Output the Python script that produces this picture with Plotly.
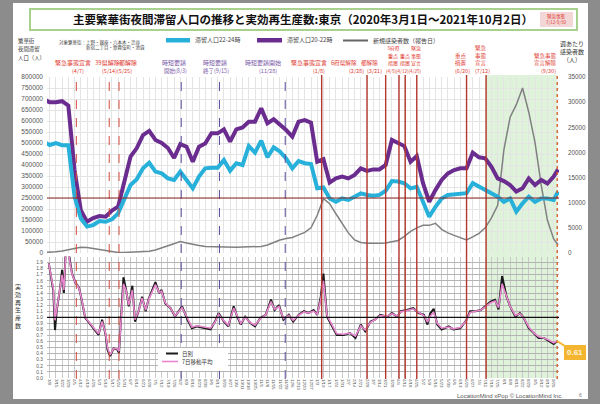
import plotly.graph_objects as go
import pandas as pd

W, H = 600, 404
L, R, T, B = 47, 41, 77, 26
PW, PH = W - L - R, H - T - B

def px(x):
    return (x - L) / PW

def py(y):
    return (H - B - y) / PH

# ---------------- data ----------------
week_dates = pd.date_range("2020-03-01", periods=83, freq="7D").strftime("%Y-%m-%d").tolist() + ["2021-10-01"]

pop_20_22 = [700000, 685000, 685000, 690000, 670000, 377000, 195000, 142000, 159000, 168000,
             165000, 193000, 210000, 332000, 438000, 477000, 536000, 555000, 514000, 500000,
             477000, 432000, 495000, 483000, 415000, 483000, 498000, 544000, 544000, 562000,
             506000, 562000, 571000, 597000, 597000, 658000, 590000, 608000, 586000, 559000,
             529000, 597000, 604000, 592000, 415000, 426000, 320000, 339000, 347000, 339000,
             355000, 385000, 373000, 380000, 380000, 400000, 514000, 498000, 486000, 415000,
             441000, 317000, 233000, 286000, 332000, 362000, 377000, 385000, 385000, 456000,
             435000, 430000, 392000, 339000, 327000, 309000, 279000, 294000, 339000, 309000,
             332000, 316000, 347000, 380000]

pop_22_24 = [506000, 491000, 500000, 490000, 490000, 256000, 158000, 120000, 127000, 145000,
             142000, 153000, 180000, 248000, 309000, 335000, 385000, 410000, 370000, 362000,
             339000, 332000, 370000, 332000, 294000, 347000, 385000, 388000, 388000, 423000,
             374000, 408000, 400000, 486000, 456000, 511000, 435000, 480000, 461000, 430000,
             385000, 418000, 408000, 404000, 294000, 298000, 248000, 233000, 248000, 241000,
             256000, 271000, 264000, 260000, 264000, 283000, 327000, 325000, 317000, 294000,
             301000, 233000, 165000, 210000, 248000, 264000, 268000, 271000, 272000, 317000,
             301000, 286000, 271000, 256000, 233000, 248000, 188000, 226000, 256000, 233000,
             248000, 248000, 241000, 279000]

weekly_cases = [100, 150, 250, 400, 700, 1000, 1150, 1100, 900, 600,
                400, 200, 100, 100, 150, 200, 250, 350, 600, 1000,
                1400, 1800, 2300, 2000, 1700, 1500, 1300, 1250, 1200, 1200,
                1150, 1150, 1200, 1250, 1250, 1300, 1600, 2100, 2600, 2900,
                3100, 3600, 4100, 5000, 7500, 10800, 9800, 7800, 6000, 4000,
                2600, 2100, 1950, 1900, 1950, 2000, 2300, 2500, 3300, 4300,
                5000, 5500, 5500, 5900, 4700, 4000, 3500, 3000, 2600, 3200,
                3900, 5000, 7000, 9500, 20500, 27000, 29500, 32800, 28000, 22000,
                13500, 6500, 2800, 1600]

rt_dates = ["2020-03-07", "2020-03-12", "2020-03-14", "2020-03-16", "2020-03-20", "2020-03-22",
            "2020-03-24", "2020-03-26", "2020-03-28", "2020-03-31", "2020-04-02", "2020-04-06",
            "2020-04-10", "2020-04-13", "2020-04-17", "2020-04-23", "2020-04-28", "2020-05-02",
            "2020-05-06", "2020-05-10", "2020-05-12", "2020-05-15", "2020-05-19", "2020-05-23",
            "2020-05-25", "2020-05-27", "2020-05-30", "2020-06-02", "2020-06-05", "2020-06-09",
            "2020-06-12", "2020-06-16", "2020-06-20", "2020-06-24", "2020-06-27", "2020-07-05",
            "2020-07-09", "2020-07-12", "2020-07-16", "2020-07-22", "2020-07-27", "2020-08-04",
            "2020-08-10", "2020-08-15", "2020-08-21", "2020-09-05", "2020-09-10", "2020-09-14",
            "2020-09-20", "2020-09-25", "2020-10-01", "2020-10-05", "2020-10-09", "2020-10-14",
            "2020-10-20", "2020-10-25", "2020-10-31", "2020-11-06", "2020-11-12", "2020-11-16",
            "2020-11-21", "2020-11-26", "2020-12-02", "2020-12-07", "2020-12-13", "2020-12-19",
            "2020-12-24", "2020-12-30", "2021-01-03", "2021-01-07", "2021-01-10", "2021-01-14",
            "2021-01-20", "2021-01-25", "2021-02-02", "2021-02-09", "2021-02-15", "2021-02-21",
            "2021-02-26", "2021-03-04", "2021-03-09", "2021-03-15", "2021-03-23", "2021-03-28",
            "2021-04-03", "2021-04-07", "2021-04-14", "2021-04-21", "2021-04-27", "2021-05-03",
            "2021-05-07", "2021-05-10", "2021-05-14", "2021-05-18", "2021-05-23", "2021-05-31",
            "2021-06-05", "2021-06-13", "2021-06-20", "2021-06-24", "2021-06-30", "2021-07-06",
            "2021-07-11", "2021-07-17", "2021-07-22", "2021-07-26", "2021-07-30", "2021-08-04",
            "2021-08-08", "2021-08-14", "2021-08-19", "2021-08-23", "2021-08-29", "2021-09-03",
            "2021-09-09", "2021-09-15", "2021-09-20", "2021-09-26", "2021-09-30"]

rt_daily = [1.89, 1.45, 0.79, 1.12, 1.51, 1.78, 1.40, 2.10, 2.20, 1.90, 1.73, 1.57,
            1.49, 1.29, 0.99, 0.88, 0.79, 0.71, 0.96, 0.71, 0.47, 0.36, 0.49, 0.47,
            0.41, 0.85, 1.66, 1.45, 1.18, 1.52, 0.93, 1.10, 1.34, 1.10, 1.29, 1.58,
            1.40, 1.45, 1.23, 1.15, 1.01, 1.18, 0.96, 0.82, 0.85, 0.80, 0.93, 1.07,
            0.93, 0.85, 1.18, 1.01, 0.88, 1.01, 0.90, 0.85, 0.99, 1.04, 1.29, 1.12,
            1.20, 0.96, 1.04, 0.93, 1.04, 1.10, 1.07, 1.12, 1.04, 1.34, 1.72, 1.01,
            0.85, 0.71, 0.71, 0.74, 0.66, 0.88, 0.77, 0.93, 0.96, 1.04, 1.01, 1.07,
            1.01, 1.10, 1.12, 1.15, 1.07, 1.04, 0.88, 1.06, 1.14, 0.88, 0.80, 0.85,
            0.80, 0.82, 0.96, 1.10, 1.10, 1.12, 1.18, 1.26, 1.29, 1.13, 1.68, 1.34,
            1.18, 1.01, 1.07, 1.00, 0.82, 0.74, 0.66, 0.66, 0.62, 0.56, 0.61]

rt_avg7 = [1.89, 1.48, 0.95, 1.15, 1.50, 1.70, 1.45, 2.05, 2.15, 1.88, 1.72, 1.57,
           1.48, 1.30, 1.00, 0.89, 0.80, 0.73, 0.93, 0.73, 0.50, 0.38, 0.49, 0.48,
           0.44, 0.86, 1.55, 1.44, 1.20, 1.45, 0.96, 1.10, 1.32, 1.12, 1.28, 1.54,
           1.41, 1.43, 1.24, 1.15, 1.02, 1.16, 0.97, 0.84, 0.86, 0.82, 0.92, 1.05,
           0.94, 0.87, 1.15, 1.02, 0.90, 1.00, 0.91, 0.87, 0.98, 1.04, 1.26, 1.13,
           1.18, 0.98, 1.03, 0.95, 1.03, 1.09, 1.07, 1.10, 1.05, 1.30, 1.60, 1.03,
           0.86, 0.73, 0.72, 0.74, 0.69, 0.86, 0.79, 0.92, 0.96, 1.03, 1.02, 1.06,
           1.02, 1.09, 1.11, 1.14, 1.08, 1.03, 0.92, 1.02, 1.08, 0.90, 0.82, 0.84,
           0.81, 0.83, 0.95, 1.08, 1.10, 1.12, 1.17, 1.24, 1.27, 1.16, 1.55, 1.34,
           1.18, 1.03, 1.06, 1.00, 0.84, 0.75, 0.68, 0.66, 0.63, 0.58, 0.61]

pop_ticks = list(range(0, 800001, 50000))
case_ticks = list(range(0, 35001, 5000))
rt_ticks = [round(i * 0.1, 1) for i in range(20)]

# event lines
ev_red_dash = ["2020-04-07", "2020-05-14", "2020-05-25"]
ev_purple_dash = ["2020-08-03", "2020-09-15", "2020-11-28"]
ev_red_solid = ["2021-01-08", "2021-02-28", "2021-03-21", "2021-04-05", "2021-04-12",
                "2021-04-25", "2021-06-20", "2021-07-12"]
ev_end = ["2021-09-30"]
emergency_span = ["2021-07-12", "2021-09-30"]

FONT = "Noto Sans CJK JP"
RED = "#e0392f"
PURP = "#7b59a8"

fig = go.Figure()

# upper panel: cases on y (right), population on y2 (left, overlaying)
fig.add_trace(go.Scatter(x=week_dates, y=weekly_cases, mode="lines", xaxis="x", yaxis="y",
                         line=dict(color="#808080", width=1.5), showlegend=False))
fig.add_trace(go.Scatter(x=week_dates, y=pop_20_22, mode="lines", xaxis="x", yaxis="y2",
                         line=dict(color="#6a2c8e", width=4), showlegend=False))
fig.add_trace(go.Scatter(x=week_dates, y=pop_22_24, mode="lines", xaxis="x", yaxis="y2",
                         line=dict(color="#27b1da", width=4), showlegend=False))
# lower panel
fig.add_trace(go.Scatter(x=rt_dates, y=rt_daily, mode="lines", xaxis="x2", yaxis="y3",
                         line=dict(color="#1a1a1a", width=2), showlegend=False))
fig.add_trace(go.Scatter(x=rt_dates, y=rt_avg7, mode="lines", xaxis="x2", yaxis="y3",
                         line=dict(color="#ea86cf", width=1.6), showlegend=False))

xrange = ["2020-03-05", "2021-10-02"]
wk = 7 * 86400000

shapes = []
# gray frame / white card
shapes.append(dict(type="rect", xref="paper", yref="paper", x0=px(13), x1=px(588), y0=py(399), y1=py(3),
                   fillcolor="white", line=dict(width=0), layer="below"))
# title box
shapes.append(dict(type="rect", xref="paper", yref="paper", x0=px(30), x1=px(577), y0=py(30), y1=py(9),
                   fillcolor="white", line=dict(color="#a9d18e", width=2), layer="below"))
# emergency mini box
shapes.append(dict(type="rect", xref="paper", yref="paper", x0=px(540), x1=px(573), y0=py(27), y1=py(12),
                   fillcolor="#f3d6d6", line=dict(width=0), layer="below"))
# green span
shapes.append(dict(type="rect", xref="x", yref="paper", x0=emergency_span[0], x1=emergency_span[1],
                   y0=0, y1=py(75), fillcolor="rgba(190,232,180,0.5)", line=dict(width=0), layer="below"))
# event lines
for d in ev_red_dash:
    shapes.append(dict(type="line", xref="x", yref="paper", x0=d, x1=d, y0=py(379), y1=py(75),
                       line=dict(color="#d24b3c", width=1, dash="dash")))
for d in ev_purple_dash:
    shapes.append(dict(type="line", xref="x", yref="paper", x0=d, x1=d, y0=py(379), y1=py(75),
                       line=dict(color="#5a4a9c", width=1, dash="dash")))
for d in ev_red_solid:
    shapes.append(dict(type="line", xref="x", yref="paper", x0=d, x1=d, y0=py(379), y1=py(75),
                       line=dict(color="#b5372c", width=1.4)))
for d in ev_end:
    shapes.append(dict(type="line", xref="x", yref="paper", x0=d, x1=d, y0=py(379), y1=py(75),
                       line=dict(color="#d8602e", width=1.4, dash="dot")))
# 250000 line and Rt=1 line
shapes.append(dict(type="line", xref="paper", yref="y2", x0=0, x1=1, y0=250000, y1=250000,
                   line=dict(color="#8b2323", width=1)))
shapes.append(dict(type="line", xref="paper", yref="y3", x0=0, x1=1, y0=1.0, y1=1.0,
                   line=dict(color="#111111", width=1.3)))
# top legend samples
shapes.append(dict(type="rect", xref="paper", yref="paper", x0=px(166), x1=px(190), y0=py(42.5), y1=py(38),
                   fillcolor="#27b1da", line=dict(width=0)))
shapes.append(dict(type="rect", xref="paper", yref="paper", x0=px(257), x1=px(282), y0=py(42.5), y1=py(38),
                   fillcolor="#6a2c8e", line=dict(width=0)))
shapes.append(dict(type="line", xref="paper", yref="paper", x0=px(343), x1=px(368), y0=py(40.5), y1=py(40.5),
                   line=dict(color="#666666", width=2)))
# lower legend box
shapes.append(dict(type="rect", xref="paper", yref="paper", x0=px(158), x1=px(228), y0=py(371), y1=py(348),
                   fillcolor="white", line=dict(width=0)))
shapes.append(dict(type="line", xref="paper", yref="paper", x0=px(166), x1=px(178), y0=py(353.5), y1=py(353.5),
                   line=dict(color="#1a1a1a", width=2)))
shapes.append(dict(type="line", xref="paper", yref="paper", x0=px(162), x1=px(178), y0=py(361.5), y1=py(361.5),
                   line=dict(color="#ea86cf", width=1.6)))

ann = []

def txt(x, y, s, size=6, color="#333", xanchor="center", bold=False, font=FONT):
    ann.append(dict(xref="paper", yref="paper", x=px(x), y=py(y), text=("<b>%s</b>" % s) if bold else s,
                    showarrow=False, xanchor=xanchor, yanchor="middle",
                    font=dict(size=size, color=color, family=font)))

# title
txt(303, 19.5, "主要繁華街夜間滞留人口の推移と実効再生産数:東京（2020年3月1日～2021年10月2日）", size=11.5,
    color="#111", bold=True)
txt(556.5, 19.5, "緊急事態<br>7/12-9/30", size=4.5, color=RED)
# legend row
txt(57, 42.5, "対象繁華街：上野・銀座・六本木・渋谷", size=4.5, color="#444", xanchor="left")
txt(147, 48, "新宿二丁目・歌舞伎町・池袋", size=4.5, color="#444", xanchor="right")
txt(193, 40, "滞留人口22-24時", size=6, color="#444", xanchor="left")
txt(285, 40, "滞留人口20-22時", size=6, color="#444", xanchor="left")
txt(371, 40.5, "新規感染者数（報告日）", size=6, color="#444", xanchor="left")
# axis titles
txt(16, 41.5, "繁華街", size=5.4, color="#333", xanchor="left")
txt(16, 49.5, "夜間滞留", size=5.4, color="#333", xanchor="left")
txt(16, 57.5, "人口（人）", size=5.4, color="#333", xanchor="left")
txt(572, 51, "週あたり<br>感染者数<br>（人）", size=6, color="#333")
txt(18, 306, "実<br>効<br>再<br>生<br>産<br>数", size=6, color="#333")

# event annotations
txt(73, 63, "緊急事態宣言", color=RED)
txt(78, 71, "(4/7)", size=5.5, color=RED)
txt(107, 63, "39県解除", color=RED)
txt(128, 63, "都解除", color=RED)
txt(109, 71, "(5/14)", size=5.5, color=RED)
txt(124, 71, "(5/25)", size=5.5, color=RED)
txt(174, 63, "時短要請", color=PURP)
txt(175, 71, "開始(8/3)", size=5.5, color=PURP)
txt(215, 63, "時短要請", color=PURP)
txt(216, 71, "終了(9/15)", size=5.5, color=PURP)
txt(263, 63, "時短要請開始", color=PURP)
txt(268, 71, "(11/28)", size=5.5, color=PURP)
txt(309, 63, "緊急事態宣言", color=RED)
txt(319, 71, "(1/8)", size=5.5, color=RED)
txt(344, 63, "6府県解除", size=5.6, color=RED)
txt(369, 63, "都解除", size=5.6, color=RED)
txt(356, 71, "(2/28)", size=5.5, color=RED)
txt(374, 71, "(3/21)", size=5.5, color=RED)
txt(393, 48, "3府県", size=5, color=RED)
txt(393, 55.5, "重点", size=5, color=RED)
txt(393, 63, "措置", size=5, color=RED)
txt(405, 55.5, "重点", size=5, color=RED)
txt(405, 63, "措置", size=5, color=RED)
txt(416, 48, "緊急", size=5, color=RED)
txt(416, 55.5, "事態", size=5, color=RED)
txt(416, 63, "宣言", size=5, color=RED)
txt(404, 71, "(4/5)(4/12)(4/25)", size=4.6, color=RED)
txt(461, 55.5, "重点", size=5.5, color=RED)
txt(461, 63, "措置", size=5.5, color=RED)
txt(462, 71, "(6/20)", size=5.5, color=RED)
txt(481, 48, "緊急", size=5.5, color=RED)
txt(481, 55.5, "事態", size=5.5, color=RED)
txt(481, 63, "宣言", size=5.5, color=RED)
txt(482, 71, "(7/12)", size=5.5, color=RED)
txt(545, 55.5, "緊急事態", size=5.5, color=RED)
txt(545, 63, "宣言解除", size=5.5, color=RED)
txt(548, 71, "(9/30)", size=5.5, color=RED)

# lower legend text
txt(180, 353.5, "日別", size=5.5, color="#333", xanchor="left")
txt(180, 361.5, "7日移動平均", size=5.5, color="#333", xanchor="left")

# footer
txt(510, 396, "LocationMind xPop © LocationMind Inc.", size=6, color="#555", font="Liberation Sans")
txt(580, 395, "6", size=5, color="#777", font="Liberation Sans")

# 0.61 callout
ann.append(dict(xref="x2", yref="y3", x=rt_dates[-1], y=rt_daily[-1], text="<b>0.61</b>", showarrow=True,
                arrowhead=0, arrowwidth=2, arrowcolor="#f4b530", ax=18, ay=12,
                bgcolor="#f4b530", bordercolor="#f4b530", borderpad=2,
                font=dict(size=8, color="#fff6dc", family="Liberation Sans")))

axfont = dict(size=6.5, color="#555", family="Liberation Sans")

fig.update_layout(
    width=W, height=H,
    margin=dict(l=L, r=R, t=T, b=B, pad=0),
    paper_bgcolor="#8c8c8c", plot_bgcolor="rgba(0,0,0,0)",
    showlegend=False,
    shapes=shapes, annotations=ann,
    xaxis=dict(domain=[0, 1], anchor="y", type="date", range=xrange, tick0="2020-03-01", dtick=wk,
               showticklabels=False, showgrid=True, gridcolor="#e4e4e4", gridwidth=1, zeroline=False,
               showline=False, ticks=""),
    yaxis=dict(domain=[py(253), 1], anchor="x", side="right", range=[0, 35000], tickvals=case_ticks,
               tickformat="d", showgrid=False, zeroline=False,
               tickfont=dict(size=6.3, color="#555", family="Liberation Sans"),
               ticks="", ticklabelstandoff=8),
    yaxis2=dict(domain=[py(253), 1], anchor="x", overlaying="y", side="left", range=[0, 800000],
                tickvals=pop_ticks, tickformat="d", showgrid=True, gridcolor="#e4e4e4", zeroline=False,
                tickfont=axfont, ticks="", ticklabelstandoff=3),
    xaxis2=dict(domain=[0, 1], anchor="y3", type="date", range=xrange, tick0="2020-03-01", dtick=wk,
                matches="x", tickformat="%-m/%-d", tickangle=90,
                tickfont=dict(size=4.3, color="#555", family="Liberation Sans"),
                showgrid=True, gridcolor="#c8c8c8", zeroline=False, showline=False, ticks=""),
    yaxis3=dict(domain=[0, py(256.6)], anchor="x2", range=[0, 2.0], tickvals=rt_ticks, tickformat=".1f",
                showgrid=True, gridcolor="#b4b4b4", zeroline=False, ticklabelstandoff=3,
                tickfont=dict(size=4.8, color="#555", family="Liberation Sans"), ticks=""),
)

fig.write_html("out.html", config={"displayModeBar": False},
               post_script="document.body.style.margin='0';document.body.style.overflow='hidden';")
